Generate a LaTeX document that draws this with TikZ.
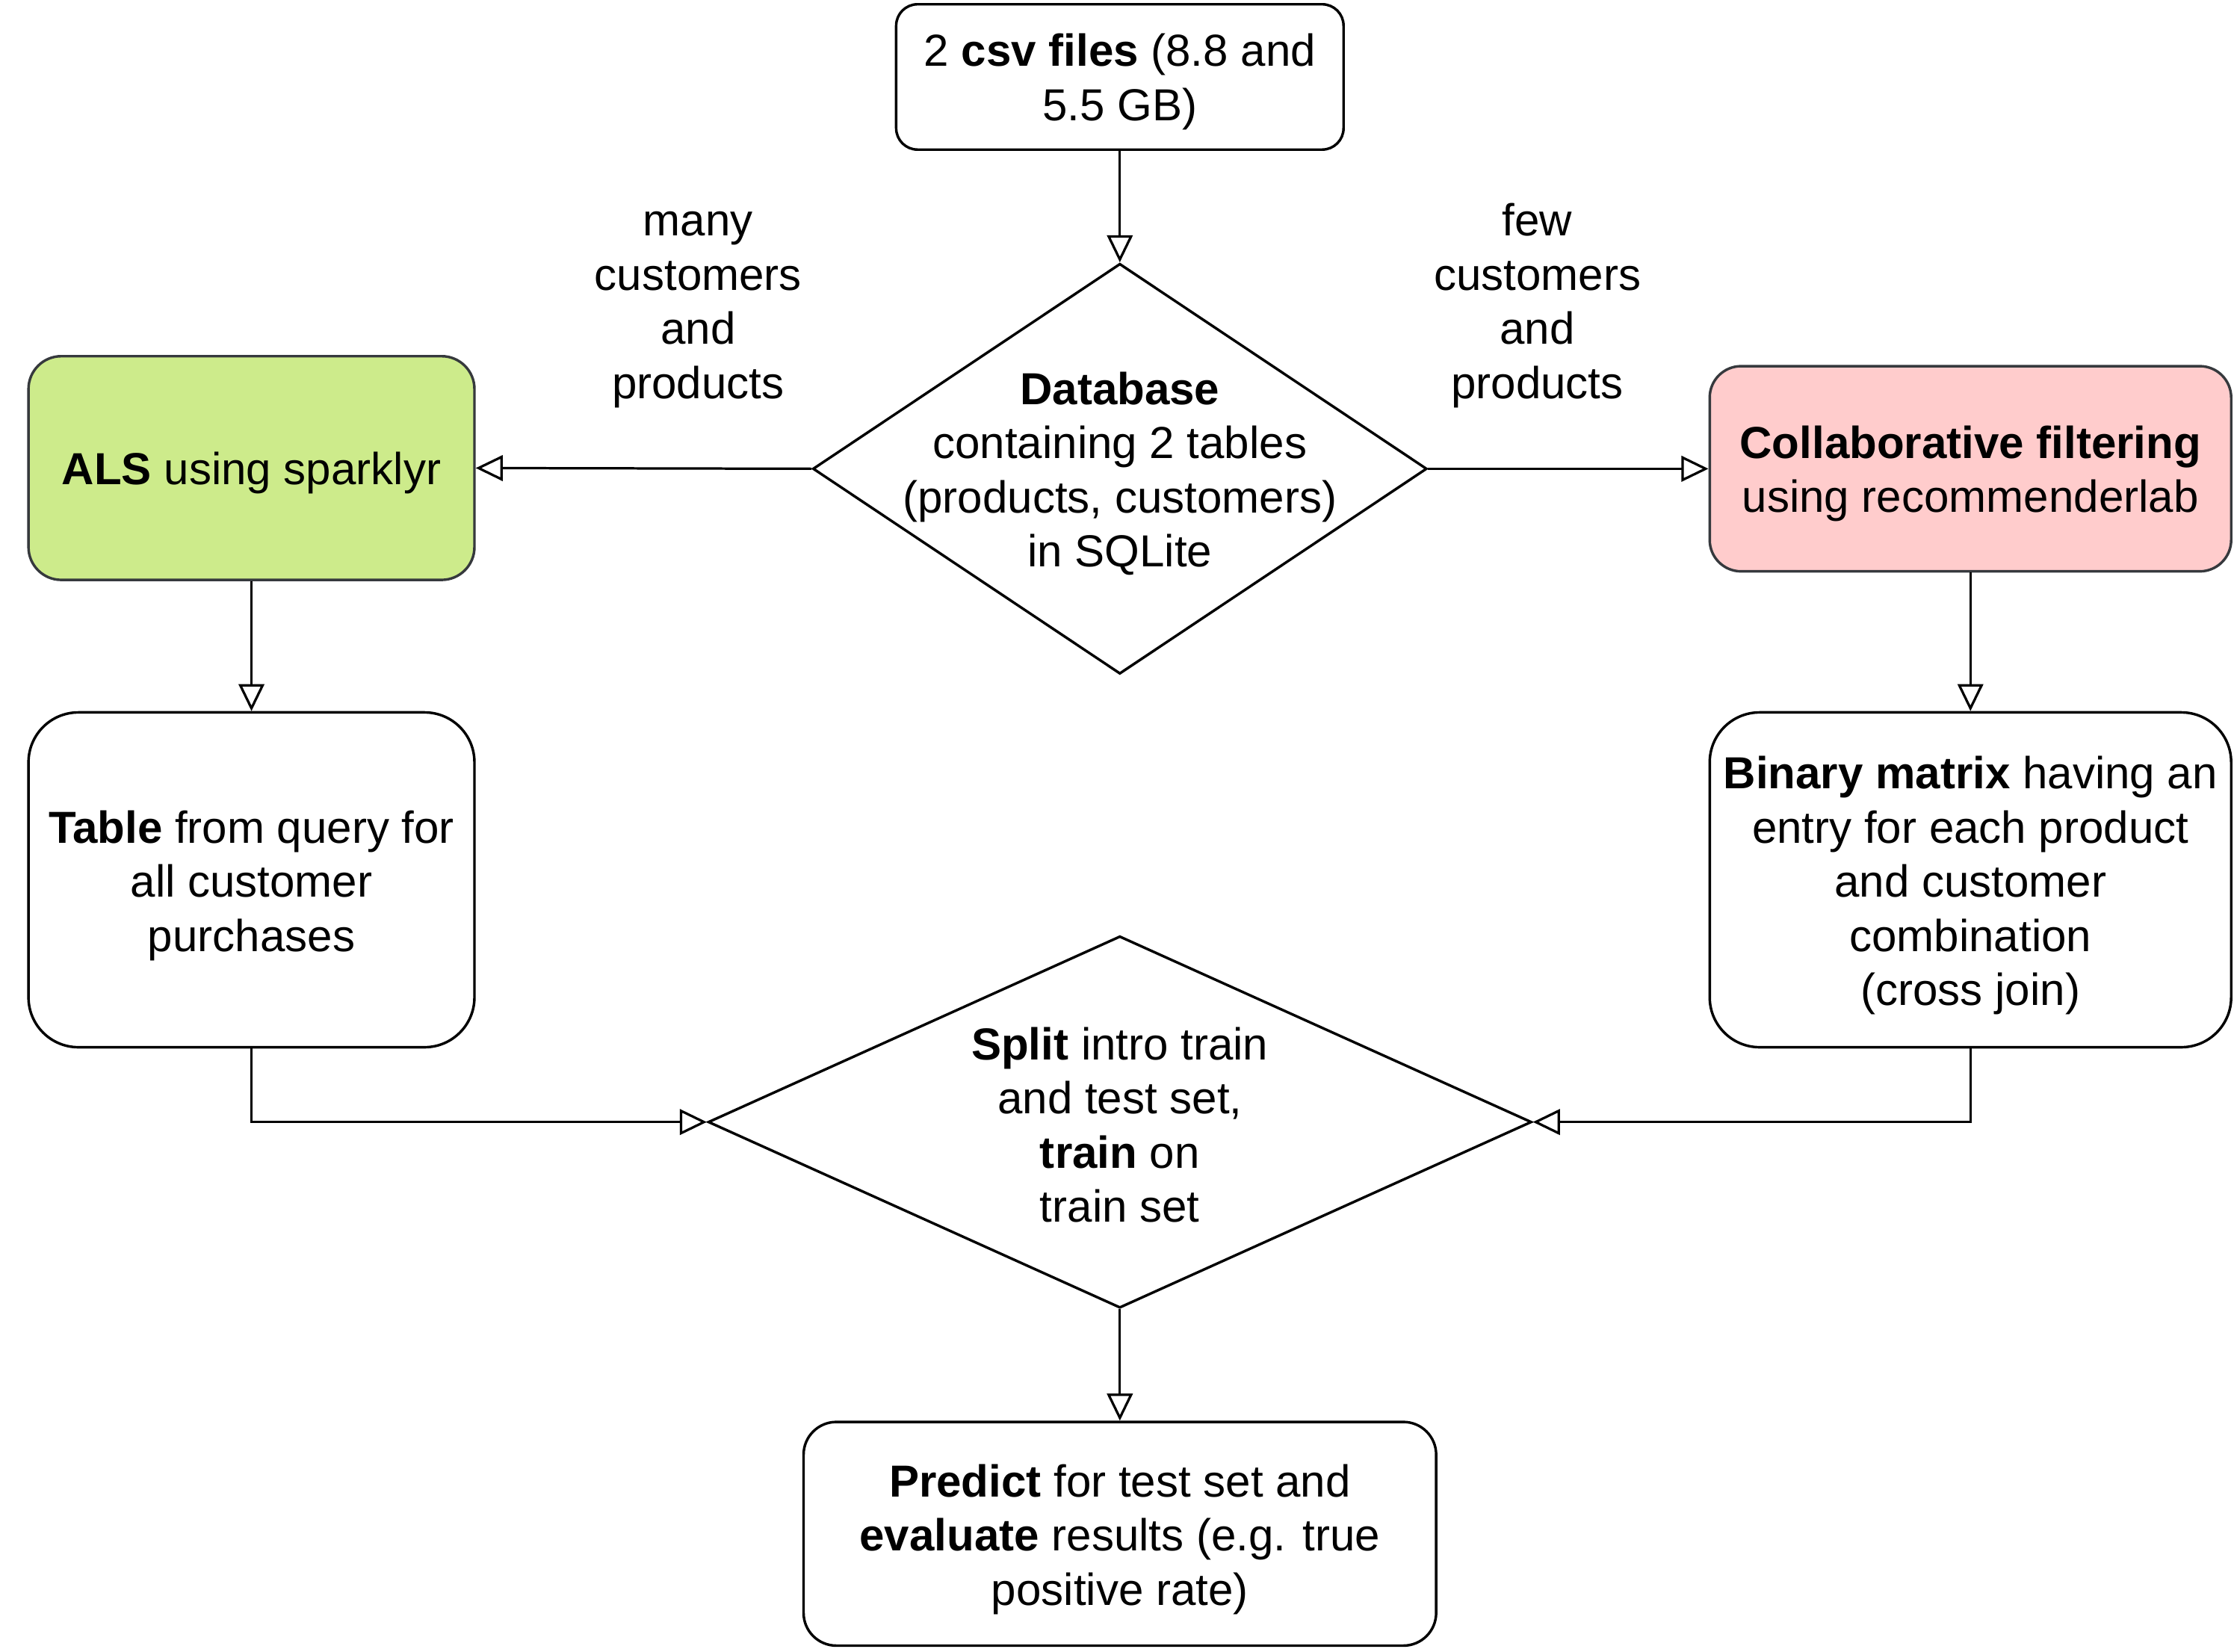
\documentclass[tikz,border=0pt]{standalone}
\usepackage{fontspec}
\setmainfont{Liberation Sans}
\usetikzlibrary{shapes.geometric,arrows.meta,positioning,calc}
\definecolor{als}{HTML}{CDEB8B}
\definecolor{cf}{HTML}{FFCCCC}
\definecolor{bord}{HTML}{36393D}
\begin{document}
\begin{tikzpicture}[x=1pt,y=-1pt,
  every node/.style={font=\fontsize{31.5pt}{38pt}\selectfont, align=center, text=black},
  box/.style={draw=black, line width=1.8pt, fill=white, inner sep=0pt},
  dia/.style={diamond, draw=black, line width=1.8pt, fill=white, inner sep=0pt},
  lbl/.style={inner sep=0pt, yshift=-3.5pt},
  conn/.style={line width=1.7pt, -{Triangle[open, length=19pt, width=18pt, line width=1.7pt]}}]
\useasboundingbox (0,0) rectangle (1568,1159);

% nodes
\node[box, rounded corners=15pt, minimum width=314pt, minimum height=102pt] (csv) at (786,54) {};
\node[lbl] (csvt) at (786,54) {2 \textbf{csv files} (8.8 and\\5.5 GB)};

\node[dia, minimum width=431pt, minimum height=288pt] (db) at (786,329) {};
\node[lbl] (dbt) at (786,329) {\textbf{Database}\\containing 2 tables\\(products, customers)\\in SQLite};

\node[box, draw=bord, fill=als, rounded corners=23pt, minimum width=313pt, minimum height=157pt] (als) at (176.5,328.5) {};
\node[lbl] (alst) at (176.5,328.5) {\textbf{ALS} using sparklyr};

\node[box, draw=bord, fill=cf, rounded corners=22pt, minimum width=366pt, minimum height=144pt] (cfb) at (1383,329) {};
\node[lbl] (cft) at (1383,329) {\textbf{Collaborative filtering}\\using recommenderlab};

\node[box, rounded corners=35pt, minimum width=313pt, minimum height=235pt] (tab) at (176.5,617.5) {};
\node[lbl] (tabt) at (176.5,618) {\textbf{Table} from query for\\all customer\\purchases};

\node[box, rounded corners=35pt, minimum width=366pt, minimum height=235pt] (bin) at (1383,617.5) {};
\node[lbl] (bint) at (1383,618) {\textbf{Binary matrix} having an\\entry for each product\\and customer\\combination\\(cross join)};

\node[dia, minimum width=578pt, minimum height=261pt] (split) at (786,787.5) {};
\node[lbl] (splitt) at (786,786) {\textbf{Split} intro train\\and test set,\\\textbf{train} on\\train set};

\node[box, rounded corners=23pt, minimum width=444pt, minimum height=157pt] (pred) at (786,1076.5) {};
\node[lbl] (predt) at (786,1077) {\textbf{Predict} for test set and\\\textbf{evaluate} results (e.g. true\\positive rate)};

\node[lbl] (many) at (490,214) {many\\customers\\and\\products};
\node[lbl] (few) at (1079,211) {few\\customers\\and\\products};

% connectors
\draw[conn] (csv.south) -- (db.north);
\draw[conn] (db.west) -- (als.east);
\draw[conn] (db.east) -- (cfb.west);
\draw[conn] (als.south) -- (tab.north);
\draw[conn] (cfb.south) -- (bin.north);
\draw[conn] (tab.south) |- (split.west);
\draw[conn] (bin.south) |- (split.east);
\draw[conn] (split.south) -- (pred.north);
\end{tikzpicture}
\end{document}
